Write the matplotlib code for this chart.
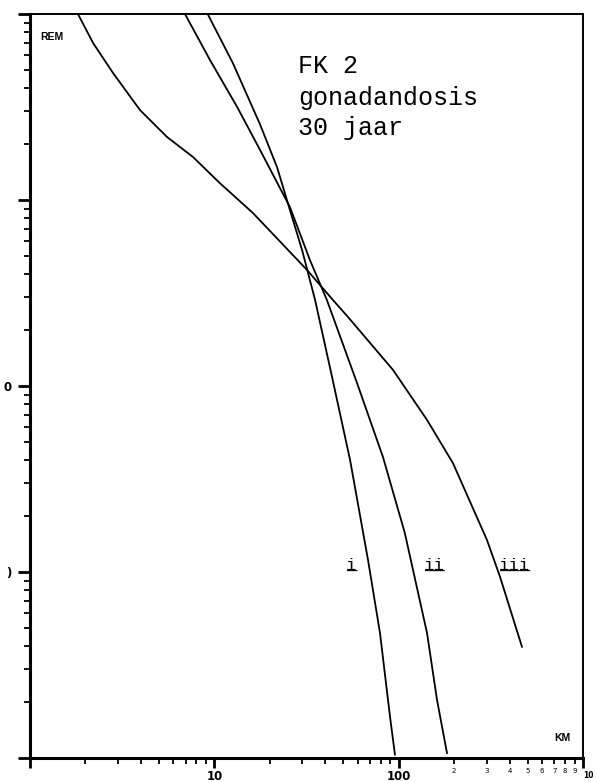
import matplotlib
matplotlib.use("Agg")
import matplotlib.pyplot as plt

# ---- data (distance in km, dose in rem) ----
curve_i_km = [9.2, 12.6, 17.7, 21.9, 26.7, 29.9, 35.2, 43.5, 54.5, 68.2, 79.2, 89.8, 95.5]
curve_i_rem = [10000, 5450, 2550, 1500, 780, 540, 290, 112, 40.0, 11.6, 4.70, 1.66, 1.04]

curve_ii_km = [6.93, 9.47, 13.3, 17.7, 25.7, 33.0, 40.8, 59.4, 82.2, 108, 142.5, 161.5, 183]
curve_ii_rem = [10000, 5660, 3162, 1858, 917, 476, 290, 104, 41.5, 16.2, 4.70, 2.05, 1.06]

curve_iii_km = [1.82, 2.20, 2.82, 3.95, 5.54, 7.66, 10.7, 16.2, 31.8, 44.0, 53.1, 93.2,
                142.5, 197, 301, 355, 467]
curve_iii_rem = [10000, 6980, 4820, 3047, 2181, 1703, 1234, 851, 421, 290, 235, 122,
                 65.7, 38.5, 14.9, 9.40, 3.95]

x_major = [1, 10, 100, 1000]
x_major_labels = ["", "10", "100", "10"]
x_minor = [m * d for d in (1, 10, 100) for m in range(2, 10)]
x_minor_labels = [""] * 16 + ["2", "3", "4", "5", "6", "7", "8", "9"]

y_major = [1, 10, 100, 1000, 10000]
y_major_labels = ["", ")", "0", "", ""]
y_minor = [m * d for d in (1, 10, 100, 1000) for m in range(2, 10)]

title_lines = ["FK 2", "gonadandosis", "30 jaar"]
curve_names = ["i", "ii", "iii"]

# ---- figure ----
W, H = 596, 782
fig = plt.figure(figsize=(W / 100, H / 100), dpi=100)
ax = fig.add_axes([30 / W, 24 / H, 553 / W, 744 / H])
ax.set_xscale("log")
ax.set_yscale("log")

for km, rem in ((curve_i_km, curve_i_rem), (curve_ii_km, curve_ii_rem),
                (curve_iii_km, curve_iii_rem)):
    ax.plot(km, rem, color="black", lw=1.3, solid_joinstyle="round",
            solid_capstyle="round")

ax.set_xlim(1, 1000)
ax.set_ylim(1, 10000)

ax.set_xticks(x_major)
ax.set_xticklabels(x_major_labels)
ax.set_xticks(x_minor, minor=True)
ax.set_xticklabels(x_minor_labels, minor=True)
ax.set_yticks(y_major)
ax.set_yticklabels(y_major_labels)
ax.set_yticks(y_minor, minor=True)
ax.set_yticklabels([""] * len(y_minor), minor=True)

ax.tick_params(axis="x", which="major", direction="out", length=7, width=2,
               labelsize=8.5, pad=2)
ax.tick_params(axis="x", which="minor", direction="out", length=4.5, width=1.3,
               labelsize=5, pad=3)
ax.tick_params(axis="y", which="major", direction="out", length=9, width=2,
               labelsize=8.5, pad=4)
ax.tick_params(axis="y", which="minor", direction="out", length=4.5, width=1.3)

for lbl in ax.get_xticklabels() + ax.get_yticklabels():
    lbl.set_fontweight("bold")
last = ax.xaxis.get_major_ticks()[-1]
last.label1.set_fontsize(5.5)
last.label1.set_horizontalalignment("left")

for side, lw in (("left", 2.2), ("bottom", 2.2), ("top", 1.4), ("right", 1.4)):
    ax.spines[side].set_linewidth(lw)
    ax.spines[side].set_color("black")

ax.text(0.040, 0.969, "REM", transform=ax.transAxes, fontsize=7.5,
        fontweight="bold", family="Liberation Sans", ha="center", va="center")
ax.text(0.962, 0.027, "KM", transform=ax.transAxes, fontsize=7.5,
        fontweight="bold", family="Liberation Sans", ha="center", va="center")

# annotation block
for txt, base in zip(title_lines, (73, 105, 135)):
    fig.text(298 / W, 1 - base / H, txt, family="Liberation Mono", fontsize=18,
             va="baseline", ha="left")

# curve names (underlined)
for name, xpx in zip(curve_names, (346, 424, 499)):
    fig.text(xpx / W, 1 - 570 / H, name, family="Liberation Mono", fontsize=12.5,
             va="baseline", ha="left")
    fig.text(xpx / W, 1 - 570 / H, "_" * len(name), family="Liberation Mono",
             fontsize=12.5, va="baseline", ha="left")

fig.savefig("out.png", dpi=100)
